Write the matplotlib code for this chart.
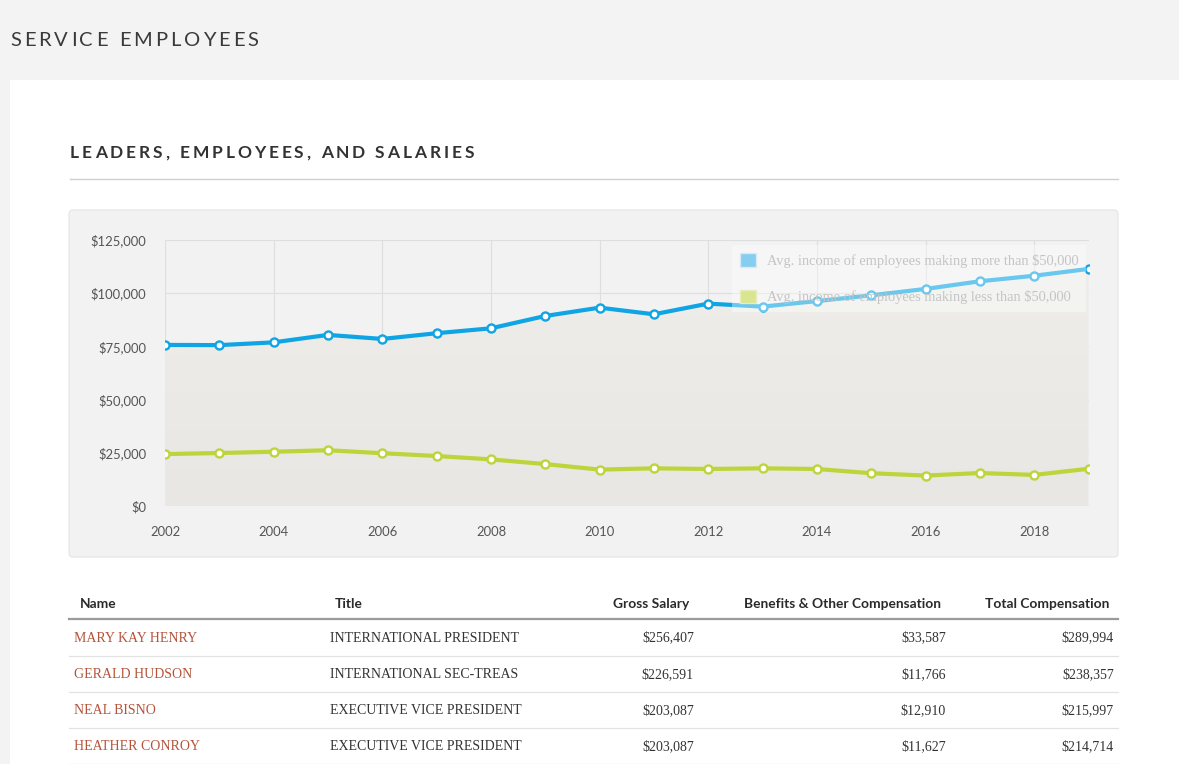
import matplotlib
matplotlib.use("Agg")
import matplotlib.pyplot as plt
import numpy as np
from matplotlib.patches import Rectangle, FancyBboxPatch, Patch
from matplotlib.transforms import Affine2D
from matplotlib.font_manager import FontProperties
from matplotlib.colors import LinearSegmentedColormap

# ---------------- data ----------------
years = [2002, 2003, 2004, 2005, 2006, 2007, 2008, 2009, 2010, 2011,
         2012, 2013, 2014, 2015, 2016, 2017, 2018, 2019]
above_50k = [75700, 75600, 76900, 80400, 78500, 81200, 83500, 89300, 93200, 90100,
             95100, 93700, 96300, 99000, 102000, 105600, 108200, 111400]
below_50k = [24400, 24900, 25500, 26200, 24800, 23500, 21900, 19700, 17100, 17700,
             17400, 17700, 17400, 15400, 14300, 15500, 14600, 17500]
y_ticks = [0, 25000, 50000, 75000, 100000, 125000]
x_ticks = [2002, 2004, 2006, 2008, 2010, 2012, 2014, 2016, 2018]
legend_labels = ["Avg. income of employees making more than $50,000",
                 "Avg. income of employees making less than $50,000"]

table_cols = ["Name", "Title", "Gross Salary", "Benefits & Other Compensation", "Total Compensation"]
names = ["MARY KAY HENRY", "GERALD HUDSON", "NEAL BISNO", "HEATHER CONROY"]
titles = ["INTERNATIONAL PRESIDENT", "INTERNATIONAL SEC-TREAS",
          "EXECUTIVE VICE PRESIDENT", "EXECUTIVE VICE PRESIDENT"]
gross = [256407, 226591, 203087, 203087]
benefits = [33587, 11766, 12910, 11627]
total = [289994, 238357, 215997, 214714]

page_title = "SERVICE EMPLOYEES"
section_title = "LEADERS, EMPLOYEES, AND SALARIES"

# ---------------- figure ----------------
W, H = 1179, 764
DPI = 100
fig = plt.figure(figsize=(W / DPI, H / DPI), dpi=DPI, facecolor="#f3f3f3")
T = Affine2D().scale(1 / W, -1 / H).translate(0, 1) + fig.transFigure  # pixel coords, top-left origin

SANS = ["Lato", "DejaVu Sans"]
SERIF = ["Liberation Serif", "DejaVu Serif"]

# white card
fig.patches.append(Rectangle((10, 80), W - 10, H - 80, transform=T,
                             facecolor="white", edgecolor="none", zorder=-2))
# chart panel
fig.patches.append(FancyBboxPatch((69, 210), 1118 - 69, 557 - 210,
                                  boxstyle="round,pad=0,rounding_size=4", transform=T,
                                  facecolor="#f2f2f2", edgecolor="#e4e4e4", lw=0.8, zorder=-1))
# rule below section title
fig.lines.append(plt.Line2D([70, 1118], [179, 179], transform=T, color="#cfcfcf", lw=1.0))

renderer = fig.canvas.get_renderer()


def spaced_text(x, y, s, spacing, size, weight, color):
    fp = FontProperties(family=SANS, size=size, weight=weight)
    for i, ch in enumerate(s):
        pre = s[:i]
        w = renderer.get_text_width_height_descent(pre, fp, ismath=False)[0] if pre else 0
        fig.text(x + w + i * spacing, y, ch, transform=T, fontproperties=fp,
                 color=color, ha="left", va="center")


spaced_text(10, 40, page_title, 3.0, 14.5, "normal", "#3a3a3a")
spaced_text(70, 153, section_title, 2.9, 12.5, "bold", "#333333")

# ---------------- chart ----------------
left, right, top, bottom = 165, 1088.5, 240, 506
ax = fig.add_axes([left / W, 1 - bottom / H, (right - left) / W, (bottom - top) / H])
ax.set_zorder(1)
ax.set_facecolor("none")
ax.set_xlim(2002, 2019)
ax.set_ylim(0, 125000)
for sp in ax.spines.values():
    sp.set_visible(False)

ax.set_xticks(x_ticks)
ax.set_yticks(y_ticks)
ax.set_xticklabels([str(v) for v in x_ticks])
ax.set_yticklabels(["${:,.0f}".format(v) for v in y_ticks])
ax.tick_params(length=0, labelsize=9.4, labelcolor="#555555")
ax.tick_params(axis="x", pad=14.5)
ax.tick_params(axis="y", pad=13.5)
for lab in ax.get_xticklabels() + ax.get_yticklabels():
    lab.set_fontfamily(SANS)
ax.grid(True, color="#dedede", lw=0.8, zorder=0)
ax.set_axisbelow(True)

# gradient area under upper line
poly = ax.fill_between(years, above_50k, 0, color="none", lw=0)
grad = np.linspace(0, 1, 256).reshape(-1, 1)
cmap = LinearSegmentedColormap.from_list("g", ["#e8e7e3", "#efeeeb"])
im = ax.imshow(grad, extent=[2002, 2019, 0, 125000], origin="lower", aspect="auto",
               cmap=cmap, zorder=1)
path = poly.get_paths()[0]
im.set_clip_path(path, transform=ax.transData)

blue = "#0fa5e4"
green = "#bcd53a"
ax.plot(years, above_50k, color=blue, lw=3, marker="o", ms=5.8, mfc="white",
        mec=blue, mew=1.7, zorder=3, solid_joinstyle="round")
ax.plot(years, below_50k, color=green, lw=3, marker="o", ms=5.8, mfc="white",
        mec=green, mew=1.7, zorder=3, solid_joinstyle="round")
ax.set_xlim(2002, 2019)
ax.set_ylim(0, 125000)

handles = [Patch(facecolor="#86cdef", edgecolor="#d6eaf4", lw=1),
           Patch(facecolor="#d9e58f", edgecolor="#e6eec0", lw=1)]
leg = ax.legend(handles, legend_labels, loc="upper left", bbox_to_anchor=(0.614, 0.981),
                borderaxespad=0, frameon=True, facecolor="white", edgecolor="none",
                framealpha=0.38, fancybox=False, handlelength=1.1, handleheight=1.1,
                handletextpad=0.75, labelspacing=1.5, borderpad=0.55,
                prop=FontProperties(family=SERIF, size=10.4))
for t in leg.get_texts():
    t.set_color("#c4c4c4")
leg.set_zorder(5)

# ---------------- table ----------------
hdr_fp = FontProperties(family=SANS, size=9.9, weight="bold")
cell_fp = FontProperties(family=SERIF, size=10)
hy = 604
fig.text(80, hy, table_cols[0], transform=T, fontproperties=hdr_fp, color="#2a2a2a", ha="left", va="center")
fig.text(335, hy, table_cols[1], transform=T, fontproperties=hdr_fp, color="#2a2a2a", ha="left", va="center")
fig.text(689, hy, table_cols[2], transform=T, fontproperties=hdr_fp, color="#2a2a2a", ha="right", va="center")
fig.text(941, hy, table_cols[3], transform=T, fontproperties=hdr_fp, color="#2a2a2a", ha="right", va="center")
fig.text(1109, hy, table_cols[4], transform=T, fontproperties=hdr_fp, color="#2a2a2a", ha="right", va="center")
fig.lines.append(plt.Line2D([69, 1118], [619, 619], transform=T, color="#9a9a9a", lw=1.6))

row_y = [638, 675, 711, 747]
sep_y = [656, 692, 728, 763.5]
for i in range(len(names)):
    y = row_y[i]
    fig.text(74, y, names[i], transform=T, fontproperties=cell_fp, color="#b5533a", ha="left", va="center")
    fig.text(330, y, titles[i], transform=T, fontproperties=cell_fp, color="#333333", ha="left", va="center")
    fig.text(694, y, "${:,}".format(gross[i]), transform=T, fontproperties=cell_fp, color="#333333", ha="right", va="center")
    fig.text(946, y, "${:,}".format(benefits[i]), transform=T, fontproperties=cell_fp, color="#333333", ha="right", va="center")
    fig.text(1114, y, "${:,}".format(total[i]), transform=T, fontproperties=cell_fp, color="#333333", ha="right", va="center")
    fig.lines.append(plt.Line2D([69, 1118], [sep_y[i], sep_y[i]], transform=T, color="#e2e2e2", lw=0.9))

fig.savefig("out.png", dpi=DPI, facecolor=fig.get_facecolor())
